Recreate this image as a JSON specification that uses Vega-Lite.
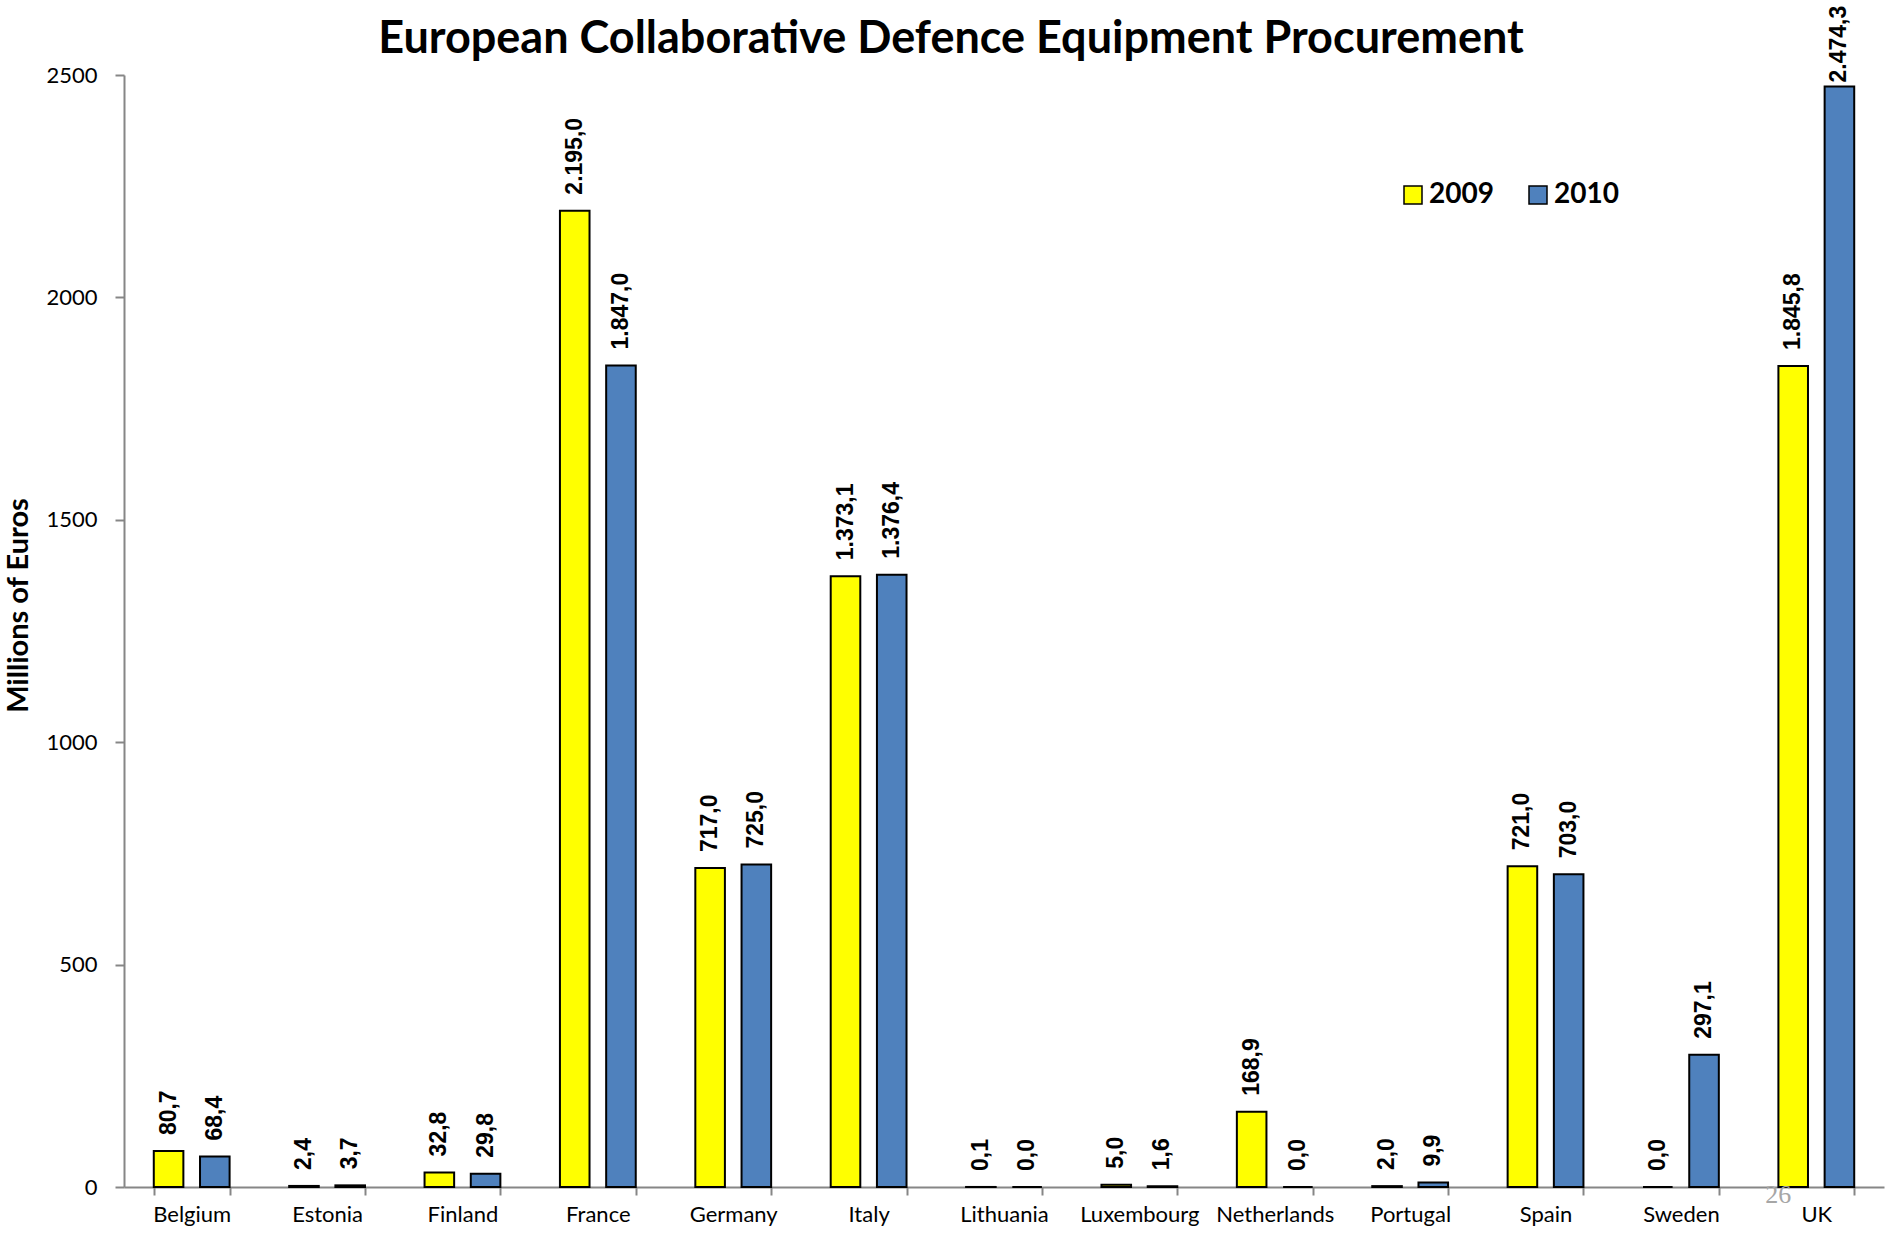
{
  "$schema": "https://vega.github.io/schema/vega-lite/v6.json",
  "width": 1760,
  "height": 1112,
  "autosize": "none",
  "padding": {"left": 124, "top": 75, "right": 4, "bottom": 48},
  "background": "white",
  "title": {
    "text": "European Collaborative Defence Equipment Procurement",
    "font": "Lato",
    "fontSize": 45,
    "fontWeight": "bold",
    "color": "black",
    "anchor": "middle",
    "frame": "group",
    "dx": -53,
    "offset": -56
  },
  "config": {
    "locale": {"number": {"decimal": ",", "thousands": ".", "grouping": [3], "currency": ["", "€"]}},
    "view": {"stroke": null}
  },
  "layer": [
    {
      "data": {"values": [
        {"country": "Belgium", "year": "2009", "value": 80.7},
        {"country": "Belgium", "year": "2010", "value": 68.4},
        {"country": "Estonia", "year": "2009", "value": 2.4},
        {"country": "Estonia", "year": "2010", "value": 3.7},
        {"country": "Finland", "year": "2009", "value": 32.8},
        {"country": "Finland", "year": "2010", "value": 29.8},
        {"country": "France", "year": "2009", "value": 2195.0},
        {"country": "France", "year": "2010", "value": 1847.0},
        {"country": "Germany", "year": "2009", "value": 717.0},
        {"country": "Germany", "year": "2010", "value": 725.0},
        {"country": "Italy", "year": "2009", "value": 1373.1},
        {"country": "Italy", "year": "2010", "value": 1376.4},
        {"country": "Lithuania", "year": "2009", "value": 0.1},
        {"country": "Lithuania", "year": "2010", "value": 0.0},
        {"country": "Luxembourg", "year": "2009", "value": 5.0},
        {"country": "Luxembourg", "year": "2010", "value": 1.6},
        {"country": "Netherlands", "year": "2009", "value": 168.9},
        {"country": "Netherlands", "year": "2010", "value": 0.0},
        {"country": "Portugal", "year": "2009", "value": 2.0},
        {"country": "Portugal", "year": "2010", "value": 9.9},
        {"country": "Spain", "year": "2009", "value": 721.0},
        {"country": "Spain", "year": "2010", "value": 703.0},
        {"country": "Sweden", "year": "2009", "value": 0.0},
        {"country": "Sweden", "year": "2010", "value": 297.1},
        {"country": "UK", "year": "2009", "value": 1845.8},
        {"country": "UK", "year": "2010", "value": 2474.3}
      ]},
      "encoding": {
        "x": {
          "field": "country", "type": "nominal", "sort": null,
          "scale": {"paddingInner": 0.44, "paddingOuter": 0.22},
          "axis": {
            "title": null, "labelAngle": 0, "tickBand": "extent",
            "labelFont": "Lato", "labelFontSize": 22, "labelColor": "black",
            "domainColor": "#868686", "domainWidth": 2, "tickColor": "#868686", "tickWidth": 2,
            "tickSize": 8, "labelPadding": 9
          }
        },
        "xOffset": {"field": "year", "type": "nominal", "scale": {"paddingInner": 0.36}},
        "y": {
          "field": "value", "type": "quantitative",
          "scale": {"domain": [0, 2500], "nice": false},
          "axis": {
            "title": "Millions of Euros", "values": [0, 500, 1000, 1500, 2000, 2500], "format": "d",
            "grid": false, "labelFont": "Lato", "labelFontSize": 22, "labelColor": "black",
            "domainColor": "#868686", "domainWidth": 2, "tickColor": "#868686", "tickWidth": 2,
            "tickSize": 9, "labelPadding": 18,
            "titleFont": "Lato", "titleFontSize": 29, "titleFontWeight": "bold", "titleColor": "black",
            "titleX": -106, "titleY": 530, "titleAngle": -90, "titleBaseline": "middle", "titleAlign": "center"
          }
        }
      },
      "layer": [
        {
          "mark": {"type": "bar", "stroke": "black", "strokeWidth": 2},
          "encoding": {
            "color": {
              "field": "year", "type": "nominal",
              "scale": {"domain": ["2009", "2010"], "range": ["#FFFF00", "#4F81BD"]},
              "legend": {
                "title": null, "orient": "none", "legendX": 1275, "legendY": 106,
                "direction": "horizontal", "symbolType": "square", "symbolSize": 324,
                "symbolStrokeColor": "black", "symbolStrokeWidth": 1.5,
                "labelFont": "Lato", "labelFontSize": 28, "labelFontWeight": "bold", "labelColor": "black",
                "labelOffset": 2, "columnPadding": 30
              }
            }
          }
        },
        {
          "transform": [{"filter": "datum.value < 2400"}],
          "mark": {"type": "text", "angle": -90, "align": "left", "baseline": "middle", "dx": 16,
                   "font": "Liberation Sans", "fontSize": 23, "fontWeight": "bold", "color": "black"},
          "encoding": {
            "text": {"field": "value", "type": "quantitative", "format": ",.1f"}
          }
        },
        {
          "transform": [{"filter": "datum.value >= 2400"}],
          "mark": {"type": "text", "angle": -90, "align": "left", "baseline": "middle", "dx": 4,
                   "font": "Liberation Sans", "fontSize": 23, "fontWeight": "bold", "color": "black"},
          "encoding": {
            "text": {"field": "value", "type": "quantitative", "format": ",.1f"}
          }
        }
      ]
    },
    {
      "data": {"values": [{"page": "26"}]},
      "mark": {"type": "text", "font": "Liberation Serif", "fontSize": 26, "color": "#a6a6a6", "dx": -38, "dy": 8, "baseline": "middle"},
      "encoding": {
        "x": {"datum": "UK"},
        "y": {"datum": 0},
        "text": {"field": "page"}
      }
    }
  ]
}
